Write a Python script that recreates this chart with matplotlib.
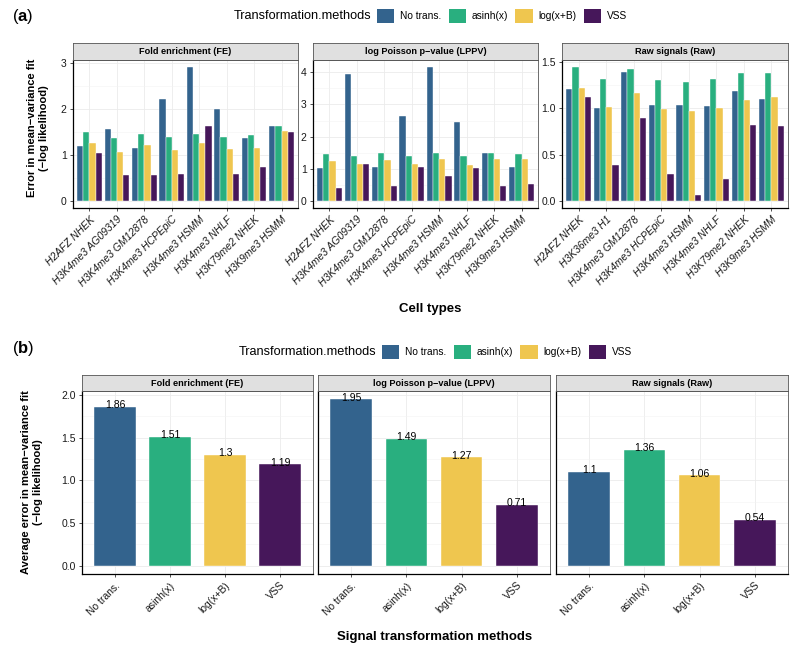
import matplotlib
matplotlib.use("Agg")
import matplotlib.pyplot as plt
import numpy as np
from matplotlib.patches import Patch

plt.rcParams["font.family"] = ["Liberation Sans", "DejaVu Sans"]
plt.rcParams["mathtext.fontset"] = "custom"
plt.rcParams["mathtext.bf"] = "Liberation Sans:bold"
plt.rcParams["mathtext.rm"] = "Liberation Sans"

# ============= data ============= #
methods = ["No trans.", "asinh(x)", "log(x+B)", "VSS"]
method_colors = ["#33638D", "#29AF7F", "#EFC64F", "#46175A"]

facet_titles = ["Fold enrichment (FE)", "log Poisson p\u2212value (LPPV)", "Raw signals (Raw)"]

fe_cells = ["H2AFZ NHEK", "H3K4me3 AG09319", "H3K4me3 GM12878", "H3K4me3 HCPEpiC",
            "H3K4me3 HSMM", "H3K4me3 NHLF", "H3K79me2 NHEK", "H3K9me3 HSMM"]
lppv_cells = fe_cells
raw_cells = ["H2AFZ NHEK", "H3K36me3 H1", "H3K4me3 GM12878", "H3K4me3 HCPEpiC",
             "H3K4me3 HSMM", "H3K4me3 NHLF", "H3K79me2 NHEK", "H3K9me3 HSMM"]

fe_notrans = [1.20, 1.56, 1.15, 2.22, 2.92, 2.01, 1.38, 1.64]
fe_asinh = [1.50, 1.37, 1.47, 1.39, 1.47, 1.40, 1.43, 1.64]
fe_log = [1.27, 1.06, 1.23, 1.12, 1.26, 1.14, 1.15, 1.52]
fe_vss = [1.05, 0.58, 0.58, 0.60, 1.63, 0.60, 0.74, 1.50]

lppv_notrans = [1.04, 3.93, 1.05, 2.63, 4.17, 2.46, 1.49, 1.05]
lppv_asinh = [1.47, 1.41, 1.49, 1.41, 1.49, 1.39, 1.49, 1.48]
lppv_log = [1.26, 1.16, 1.27, 1.16, 1.30, 1.11, 1.31, 1.31]
lppv_vss = [0.42, 1.14, 0.46, 1.06, 0.78, 1.04, 0.47, 0.54]

raw_notrans = [1.21, 1.00, 1.39, 1.04, 1.04, 1.03, 1.19, 1.10]
raw_asinh = [1.45, 1.32, 1.43, 1.31, 1.29, 1.32, 1.38, 1.38]
raw_log = [1.22, 1.02, 1.17, 0.99, 0.97, 1.00, 1.09, 1.12]
raw_vss = [1.12, 0.39, 0.90, 0.29, 0.065, 0.24, 0.82, 0.81]

fe_avg = [1.86, 1.51, 1.3, 1.19]
lppv_avg = [1.95, 1.49, 1.27, 0.71]
raw_avg = [1.1, 1.36, 1.06, 0.54]

top_data = [
    (fe_cells, [fe_notrans, fe_asinh, fe_log, fe_vss], [0, 1, 2, 3], "{:.0f}"),
    (lppv_cells, [lppv_notrans, lppv_asinh, lppv_log, lppv_vss], [0, 1, 2, 3, 4], "{:.0f}"),
    (raw_cells, [raw_notrans, raw_asinh, raw_log, raw_vss], [0, 0.5, 1.0, 1.5], "{:.1f}"),
]
bottom_data = [fe_avg, lppv_avg, raw_avg]

# ============= layout helpers ============= #
W, H = 792, 650
fig = plt.figure(figsize=(W / 100, H / 100), dpi=100)


def box(x0, x1, ytop, ybot):
    return [x0 / W, 1 - ybot / H, (x1 - x0) / W, (ybot - ytop) / H]


def style_panel(ax):
    ax.set_facecolor("white")
    for s in ["top", "right"]:
        ax.spines[s].set_color("#555555")
        ax.spines[s].set_linewidth(0.6)
    for s in ["left", "bottom"]:
        ax.spines[s].set_color("black")
        ax.spines[s].set_linewidth(0.9)
    ax.grid(True, which="major", color="#EBEBEB", lw=0.6)
    ax.grid(True, which="minor", axis="y", color="#F3F3F3", lw=0.4)
    ax.set_axisbelow(True)
    ax.tick_params(length=2.5, width=0.6, color="#333333", labelsize=7.5,
                   labelcolor="#1a1a1a", pad=2)
    ax.tick_params(which="minor", length=0)


def add_strip(x0, x1, ytop, ybot, title):
    sax = fig.add_axes(box(x0, x1, ytop, ybot))
    sax.set_facecolor("#E0E0E0")
    sax.set_xticks([])
    sax.set_yticks([])
    for s in sax.spines.values():
        s.set_color("#555555")
        s.set_linewidth(0.6)
    sax.text(0.5, 0.5, title, ha="center", va="center", fontsize=6.6,
             fontweight="bold", transform=sax.transAxes)


def add_legend(center_y, title_right):
    fig.text(title_right / W, 1 - center_y / H, "Transformation.methods",
             ha="right", va="center", fontsize=9.2)
    handles = [Patch(facecolor=c, edgecolor="none") for c in method_colors]
    fig.legend(handles, methods, loc="center left", ncol=4, frameon=False,
               bbox_to_anchor=((title_right + 6) / W, 1 - center_y / H),
               fontsize=7.3, handlelength=1.7, handleheight=1.7,
               handletextpad=0.6, columnspacing=0.7, borderpad=0,
               borderaxespad=0)


# ============= (a) top panels ============= #
top_x = [(73, 298), (313, 538), (562, 788)]
for (x0, x1), title, (cells, series, yticks, fmt) in zip(top_x, facet_titles, top_data):
    ax = fig.add_axes(box(x0, x1, 60, 208))
    style_panel(ax)
    x = np.arange(1, len(cells) + 1)
    bw = 0.9 / len(methods)
    for i, (vals, col) in enumerate(zip(series, method_colors)):
        ax.bar(x - 0.45 + bw * (i + 0.5), vals, width=bw, color=col,
               edgecolor="white", linewidth=0.3)
    ymax = max(max(v) for v in series)
    ax.set_ylim(-0.05 * ymax, ymax * 1.05)
    ax.set_xlim(0.4, len(cells) + 0.6)
    ax.set_yticks(yticks)
    ax.set_yticklabels([fmt.format(t) for t in yticks])
    step = yticks[1] - yticks[0]
    ax.set_yticks(np.arange(step / 2, ymax * 1.05, step), minor=True)
    ax.set_xticks(x)
    ax.set_xticklabels(cells, rotation=45, ha="right", rotation_mode="anchor",
                       fontstyle="italic", fontsize=7.5)
    add_strip(x0, x1, 43, 60, title)

fig.text(38 / W, 1 - 128 / H, "Error in mean\u2212variance fit\n(\u2212log likelihood)",
         rotation=90, ha="center", va="center", fontsize=8, fontweight="bold",
         linespacing=1.3)
fig.text(430 / W, 1 - 309 / H, "Cell types", ha="center", va="center",
         fontsize=9.5, fontweight="bold")
fig.text(12 / W, 1 - 16 / H, r"($\mathbf{a}$)", ha="left", va="center", fontsize=12)
add_legend(16, 371)

# ============= (b) bottom panels ============= #
bot_x = [(82, 313), (318, 550), (556, 788)]
ymax_b = max(max(v) for v in bottom_data)
for k, ((x0, x1), title, vals) in enumerate(zip(bot_x, facet_titles, bottom_data)):
    ax = fig.add_axes(box(x0, x1, 391, 574))
    style_panel(ax)
    x = np.arange(1, len(methods) + 1)
    ax.bar(x, vals, width=0.75, color=method_colors, edgecolor="white", linewidth=0.3)
    for xi, v in zip(x, vals):
        ax.annotate(f"{v:g}", (xi, v), xytext=(0, -1), textcoords="offset points",
                    ha="center", va="baseline", fontsize=7.5)
    ax.set_xlim(0.4, len(methods) + 0.6)
    ax.set_ylim(-0.05 * ymax_b, ymax_b * 1.05)
    ax.set_yticks([0, 0.5, 1.0, 1.5, 2.0])
    ax.set_yticks([0.25, 0.75, 1.25, 1.75], minor=True)
    ax.set_xticks(x)
    ax.set_xticklabels(methods, rotation=45, ha="right", rotation_mode="anchor",
                       fontsize=7.5)
    if k == 0:
        ax.set_yticklabels(["0.0", "0.5", "1.0", "1.5", "2.0"])
    else:
        ax.tick_params(axis="y", left=False, labelleft=False)
    add_strip(x0, x1, 375, 391, title)

fig.text(32 / W, 1 - 482 / H,
         "Average error in mean\u2212variance fit\n(\u2212log likelihood)",
         rotation=90, ha="center", va="center", fontsize=8, fontweight="bold",
         linespacing=1.3)
fig.text(435 / W, 1 - 637 / H, "Signal transformation methods", ha="center",
         va="center", fontsize=9.5, fontweight="bold")
fig.text(12 / W, 1 - 349 / H, r"($\mathbf{b}$)", ha="left", va="center", fontsize=12)
add_legend(352, 376)

fig.savefig("out.png", dpi=100)
